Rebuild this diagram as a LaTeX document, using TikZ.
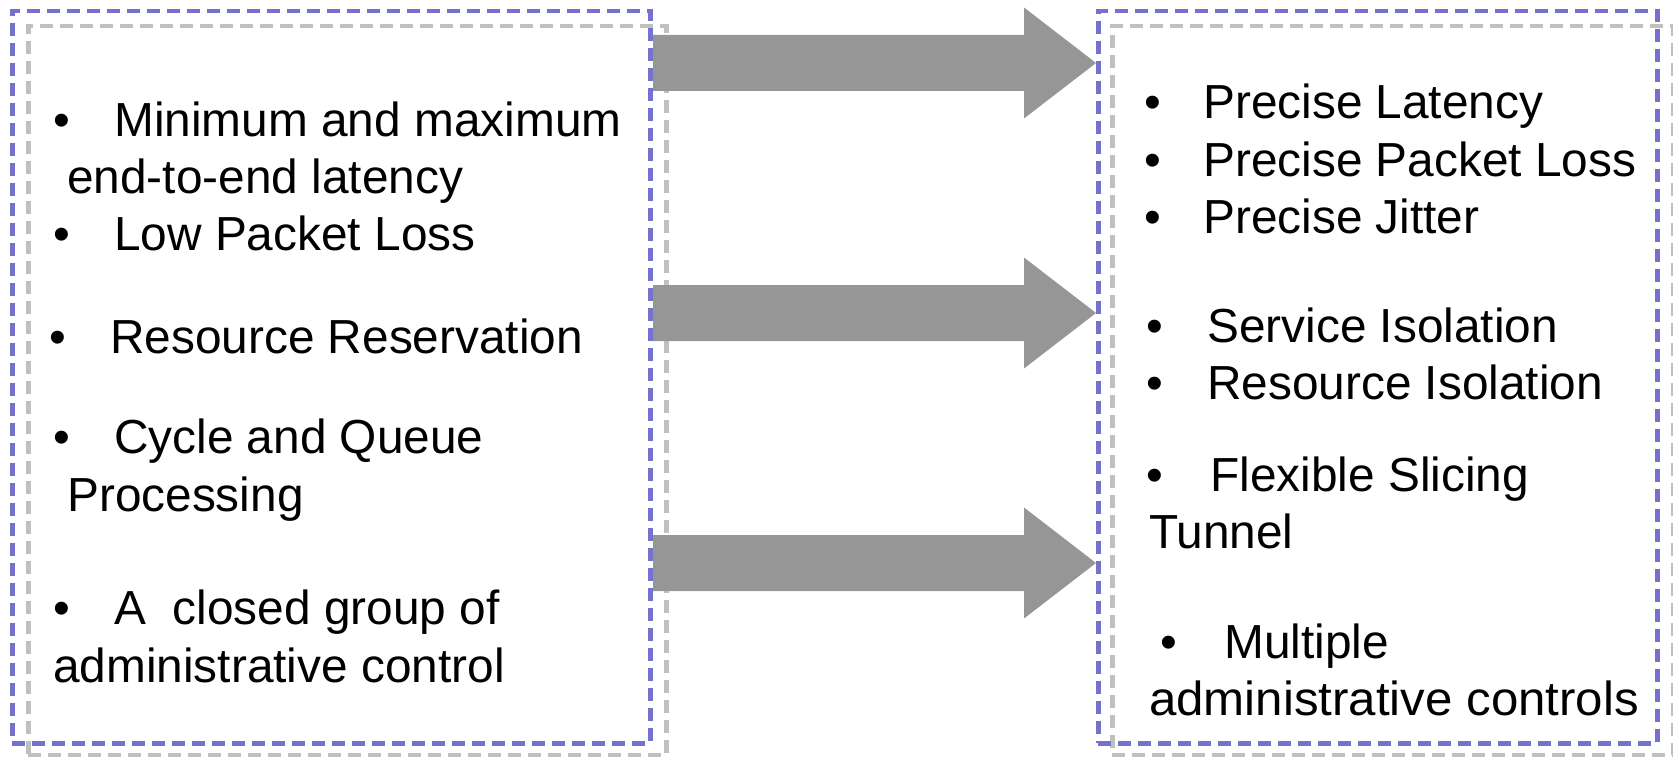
\documentclass[tikz,border=0pt]{standalone}
\usepackage{fontspec}
\setmainfont{Liberation Sans}
\usetikzlibrary{calc}
\definecolor{boxblue}{RGB}{116,114,204}
\definecolor{boxgray}{RGB}{192,192,192}
\definecolor{arrowgray}{RGB}{150,150,150}
\begin{document}
\begin{tikzpicture}[x=1pt,y=-1pt,
  bluebox/.style={draw=boxblue, line width=4.5pt, dash pattern=on 13pt off 7pt, rectangle, inner sep=0pt, anchor=north west},
  graybox/.style={draw=boxgray, line width=4.5pt, dash pattern=on 13pt off 7pt, rectangle, inner sep=0pt, anchor=north west},
  txt/.style={font=\fontsize{47.8}{57.4}\selectfont, inner sep=0pt, anchor=base west},
  bul/.style={txt, anchor=base},
  blockarrow/.style={fill=arrowgray}]
\useasboundingbox (0,0) rectangle (1673,757);
% boxes
\node[graybox, minimum width=638pt, minimum height=729pt] (lg) at (26,24) {};
\node[graybox, minimum width=561pt, minimum height=729pt] (rg) at (1110,24) {};
\node[bluebox, minimum width=638pt, minimum height=732pt] (lb) at (10,9) {};
\node[bluebox, minimum width=559pt, minimum height=732pt] (rb) at (1096,9) {};
% arrows
\foreach \n/\c in {1/63, 2/313, 3/563}{
  \coordinate (s\n) at (653,\c);
  \coordinate (t\n) at (rb.west |- s\n);
  \fill[blockarrow] ($(s\n)+(0,-28)$) -- ($(t\n)+(-72,-28)$) -- ($(t\n)+(-72,-55.5)$) -- (t\n)
    -- ($(t\n)+(-72,55.5)$) -- ($(t\n)+(-72,28)$) -- ($(s\n)+(0,28)$) -- cycle;
}
% left texts
\node[bul] (lb1) at (62,136) {•};
\node[txt] (l1) at (114,136) {Minimum and maximum};
\node[txt] (l2) at (67,193) {end-to-end latency};
\node[bul] (lb3) at (62,250) {•};
\node[txt] (l3) at (114,250) {Low Packet Loss};
\node[bul] (lb4) at (58,353) {•};
\node[txt] (l4) at (110,353) {Resource Reservation};
\node[bul] (lb5) at (62,453) {•};
\node[txt] (l5) at (114,453) {Cycle and Queue};
\node[txt] (l6) at (67,511) {Processing};
\node[bul] (lb7) at (62,624) {•};
\node[txt] (l7) at (114,624) {A\ \ closed group of};
\node[txt] (l8) at (53,682) {administrative control};
% right texts
\node[bul] (rb1) at (1153,119) {•};
\node[txt] (r1) at (1203,119) {Precise Latency};
\node[bul] (rb2) at (1153,176) {•};
\node[txt] (r2) at (1203,176) {Precise Packet Loss};
\node[bul] (rb3) at (1153,233) {•};
\node[txt] (r3) at (1203,233) {Precise Jitter};
\node[bul] (rb4) at (1155,342) {•};
\node[txt] (r4) at (1207,342) {Service Isolation};
\node[bul] (rb5) at (1155,399) {•};
\node[txt] (r5) at (1207,399) {Resource Isolation};
\node[bul] (rb6) at (1155,491) {•};
\node[txt] (r6) at (1210,491) {Flexible Slicing};
\node[txt] (r7) at (1149,548) {Tunnel};
\node[bul] (rb8) at (1169,658) {•};
\node[txt] (r8) at (1224,658) {Multiple};
\node[txt] (r9) at (1149,715) {\scalebox{1.03}[1]{administrative controls}};
\end{tikzpicture}
\end{document}
